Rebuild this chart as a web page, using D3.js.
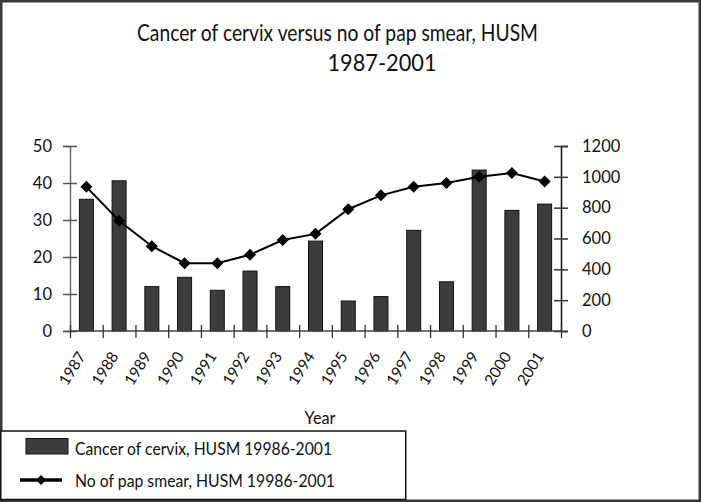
<!DOCTYPE html>
<html>
<head>
<meta charset="utf-8">
<script src="https://cdn.jsdelivr.net/npm/d3@7/dist/d3.min.js"></script>
<style>
  html, body { margin: 0; padding: 0; background: #fff; }
  svg { display: block; }
  text { font-family: Lato, "Open Sans", sans-serif; fill: #111; }
</style>
</head>
<body>
<svg id="chart" width="701" height="502"></svg>
<script>
// ---- data ----
const years = ["1987","1988","1989","1990","1991","1992","1993","1994","1995","1996","1997","1998","1999","2000","2001"];
const cancerCases = [35.6, 40.6, 12.0, 14.5, 11.0, 16.2, 12.0, 24.3, 8.1, 9.3, 27.2, 13.3, 43.5, 32.6, 34.3];
const papSmears = [935, 715, 550, 440, 440, 495, 590, 630, 790, 880, 935, 960, 1000, 1025, 970];
const leftTicks = [0, 10, 20, 30, 40, 50];
const rightTicks = [0, 200, 400, 600, 800, 1000, 1200];
const titleLines = ["Cancer of cervix versus no of pap smear, HUSM", "1987-2001"];
const xTitle = "Year";
const legendLabels = ["Cancer of cervix, HUSM 19986-2001", "No of pap smear, HUSM 19986-2001"];

// ---- layout ----
const svg = d3.select("#chart");
const W = 701, H = 502;
const plot = { left: 70, right: 561, top: 146, bottom: 331 };

// squeeze text horizontally to a target width (keeps glyph height)
function fit(sel, target) {
  const w = sel.node().getComputedTextLength();
  if (w > target) sel.attr("textLength", target).attr("lengthAdjust", "spacingAndGlyphs");
  return sel;
}

// outer frame
svg.append("rect").attr("x", 1.25).attr("y", 1.25).attr("width", W - 2.5).attr("height", H - 2.5)
  .attr("fill", "#fff").attr("stroke", "#3a3a3a").attr("stroke-width", 2.5);

// title
fit(svg.append("text").attr("x", 337.5).attr("y", 41).attr("text-anchor", "middle")
  .attr("font-size", 23).text(titleLines[0]), 401);
fit(svg.append("text").attr("x", 382).attr("y", 71).attr("text-anchor", "middle")
  .attr("font-size", 23).text(titleLines[1]), 109);

// scales
const xPos = d3.scaleBand().domain(years).range([plot.left, plot.right]);
const xIdx = d3.scaleLinear().domain([0, years.length]).range([plot.left, plot.right]);
const yL = d3.scaleLinear().domain([0, 50]).range([plot.bottom, plot.top]);
const yR = d3.scaleLinear().domain([0, 1200]).range([plot.bottom, plot.top]);
const cx = (d) => xPos(d) + xPos.bandwidth() / 2;

// bars
svg.append("g").selectAll("rect").data(years).join("rect")
  .attr("x", (d) => cx(d) - 7)
  .attr("width", 14)
  .attr("y", (d, i) => yL(cancerCases[i]))
  .attr("height", (d, i) => plot.bottom - yL(cancerCases[i]))
  .attr("fill", "#3c3c3c").attr("stroke", "#111").attr("stroke-width", 1);

// left axis
const gL = svg.append("g").attr("transform", `translate(${plot.left},0)`)
  .call(d3.axisLeft(yL).tickValues(leftTicks).tickSize(7).tickPadding(11).tickFormat(d3.format("d")));
gL.select(".domain").attr("stroke", "#6a6a6a").attr("stroke-width", 1.5);
gL.selectAll(".tick line").attr("x1", 7).attr("stroke", "#555").attr("stroke-width", 1.5);
gL.selectAll(".tick text").attr("font-size", 16.5).attr("font-family", "Lato, sans-serif").attr("fill", "#111");

// right axis
const gR = svg.append("g").attr("transform", `translate(${plot.right},0)`)
  .call(d3.axisRight(yR).tickValues(rightTicks).tickSize(7).tickPadding(14).tickFormat(d3.format("d")));
gR.select(".domain").attr("stroke", "#111").attr("stroke-width", 1.5);
gR.selectAll(".tick line").attr("x1", -7).attr("stroke", "#333").attr("stroke-width", 1.5);
gR.selectAll(".tick text").attr("font-size", 16.5).attr("font-family", "Lato, sans-serif").attr("fill", "#111");

// bottom axis: boundary ticks
const gB = svg.append("g").attr("transform", `translate(0,${plot.bottom})`)
  .call(d3.axisBottom(xIdx).tickValues(d3.range(0, years.length + 1)).tickSize(7).tickFormat(""));
gB.select(".domain").attr("stroke", "#444").attr("stroke-width", 1.5).attr("d", `M${plot.left},0H${plot.right}`);
gB.selectAll(".tick line").attr("y1", -6).attr("stroke", "#333").attr("stroke-width", 1.3);

// bottom labels (rotated)
const gBL = svg.append("g").attr("transform", `translate(0,${plot.bottom})`)
  .call(d3.axisBottom(xPos).tickSize(0).tickPadding(0));
gBL.select(".domain").remove();
gBL.selectAll(".tick text")
  .attr("font-size", 15.5).attr("font-family", "Lato, sans-serif").attr("fill", "#111")
  .attr("text-anchor", "end").attr("dy", 0)
  .attr("transform", "translate(0,25) rotate(-58)")
  .attr("y", 0).attr("x", 0);

// line
const line = d3.line()
  .x((d, i) => cx(years[i]))
  .y((d) => yR(d));
svg.append("path").datum(papSmears).attr("d", line)
  .attr("fill", "none").attr("stroke", "#000").attr("stroke-width", 2);

const diamond = d3.symbol().type(d3.symbolSquare).size(72);
svg.append("g").selectAll("path").data(papSmears).join("path")
  .attr("d", diamond)
  .attr("transform", (d, i) => `translate(${cx(years[i])},${yR(d)}) rotate(45)`)
  .attr("fill", "#000");

// x title
fit(svg.append("text").attr("x", 320).attr("y", 424).attr("text-anchor", "middle")
  .attr("font-size", 17).text(xTitle), 31);

// legend
svg.append("rect").attr("x", 0.75).attr("y", 431).attr("width", 405).attr("height", 68.5)
  .attr("fill", "#fff").attr("stroke", "#111").attr("stroke-width", 1.5);
svg.append("rect").attr("x", 26).attr("y", 438.5).attr("width", 42).attr("height", 15.5)
  .attr("fill", "#3c3c3c").attr("stroke", "#111").attr("stroke-width", 1);
fit(svg.append("text").attr("x", 75).attr("y", 455).attr("font-size", 16.5).text(legendLabels[0]), 257);
svg.append("line").attr("x1", 20).attr("x2", 62).attr("y1", 480).attr("y2", 480)
  .attr("stroke", "#000").attr("stroke-width", 3.5);
svg.append("path").attr("d", d3.symbol().type(d3.symbolSquare).size(50))
  .attr("transform", "translate(41,480) rotate(45)").attr("fill", "#000");
fit(svg.append("text").attr("x", 75).attr("y", 487).attr("font-size", 16.5).text(legendLabels[1]), 260);
</script>
</body>
</html>
